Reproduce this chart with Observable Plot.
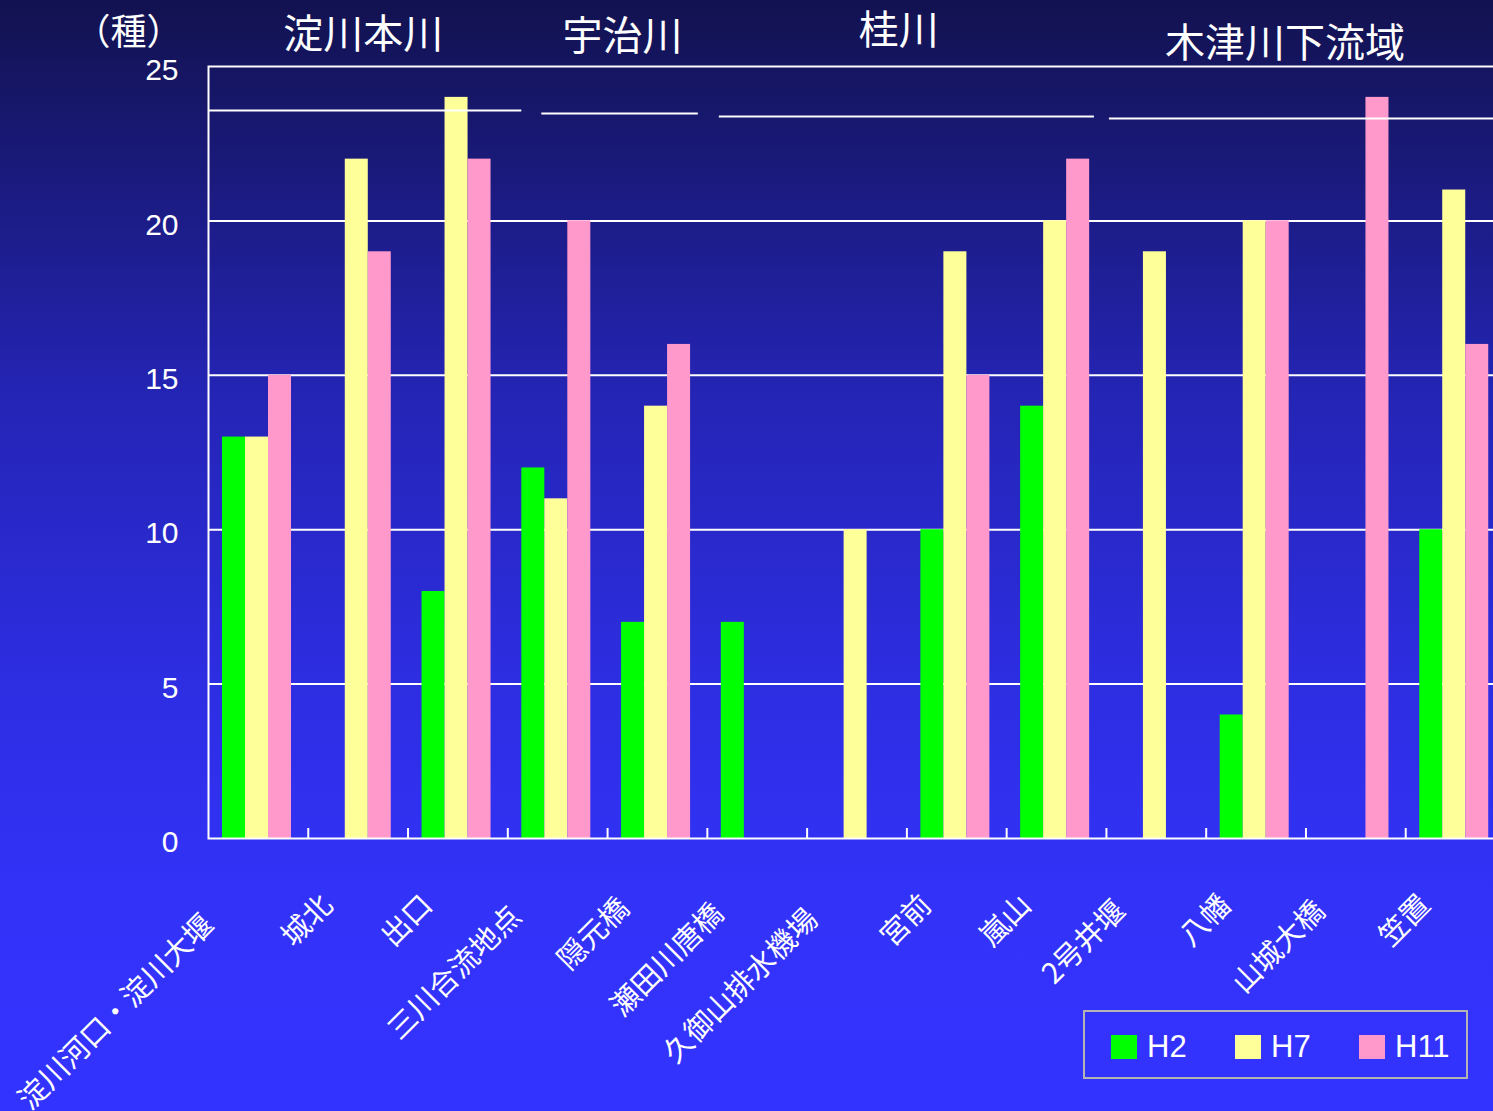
<!DOCTYPE html>
<html>
<head>
<meta charset="utf-8">
<script src="https://cdn.jsdelivr.net/npm/d3@7"></script>
<script src="https://cdn.jsdelivr.net/npm/@observablehq/plot@0.6"></script>
<style>
  html, body { margin: 0; padding: 0; width: 1493px; height: 1111px; overflow: hidden; }
  body {
    position: relative;
    background: linear-gradient(to bottom, #121250 0%, #17176c 10%, #2424b4 35%, #2d2de0 60%, #3232f8 80%, #3333ff 100%);
    font-family: "Noto Sans CJK JP", "Noto Sans", sans-serif;
  }
  #chart { position: absolute; left: 0; top: 0; }
  #legend {
    position: absolute; left: 1083px; top: 1010px; width: 381px; height: 65px;
    border: 2px solid #b4b4b4;
  }
  #legend .sw { position: absolute; top: 23px; width: 26px; height: 24px; }
  #legend .lb {
    position: absolute; top: 14px; line-height: 42px; font-size: 31px; color: white;
    font-family: "Liberation Sans", Arial, sans-serif;
  }
</style>
</head>
<body>
<div id="chart"></div>
<div id="legend"></div>
<script>
// ---- data ----
const categories = ["淀川河口・淀川大堰", "城北", "出口", "三川合流地点", "隠元橋", "瀬田川唐橋", "久御山排水機場", "宮前", "嵐山", "2号井堰", "八幡", "山城大橋", "笠置"];
const seriesNames = ["H2", "H7", "H11"];
const h2Values  = [13, null, 8, 12, 7, 7, null, 10, 14, null, 4, null, 10];
const h7Values  = [13, 22, 24, 11, 14, null, 10, 19, 20, 19, 20, null, 21];
const h11Values = [15, 19, 22, 20, 16, null, null, 15, 22, null, 20, 24, 16];
const yTicks = [0, 5, 10, 15, 20, 25];
const unitLabel = "（種）";
const groupNames  = ["淀川本川", "宇治川", "桂川", "木津川下流域"];
const groupFirst  = ["淀川河口・淀川大堰", "三川合流地点", "瀬田川唐橋", "2号井堰"];
const groupLast   = ["出口", "隠元橋", "嵐山", "笠置"];
const groupAnchor = ["城北", "隠元橋", "宮前", "八幡"];

// ---- styles ----
const seriesColors = ["#00ff00", "#ffff99", "#ff99cc"];
const W = 1493, H = 1111, mL = 208, mR = -12, mT = 66, mB = 273;
const bw = (W - mL - mR) / categories.length;
const barW = 23, groupStart = 14;
const headerStyle = [{dx: 5, dy: -31}, {dx: -35, dy: -29}, {dx: -58, dy: -35}, {dx: 29, dy: -22}];
const lineStyle = [{l: 0, r: -14, dy: 44}, {l: 34, r: 9, dy: 47}, {l: 12, r: 12, dy: 50}, {l: 3, r: -20, dy: 52}];
const cjk = "Noto Sans CJK JP";

const seriesValues = [h2Values, h7Values, h11Values];
const rows = categories.map((c, i) => ({c, v: seriesValues.map(s => s[i])}));
const yMax = d3.max(yTicks);

const barMarks = seriesNames.map((s, k) =>
  Plot.barY(rows.filter(r => r.v[k] != null), {
    x: "c", y: r => r.v[k], fill: seriesColors[k],
    insetLeft: groupStart + barW * k,
    insetRight: bw - groupStart - barW * (k + 1)
  })
);

const labelMarks = categories.map(c =>
  Plot.text([c], {
    x: d => d, text: d => d, frameAnchor: "bottom", lineAnchor: "bottom", rotate: -45, textAnchor: "end",
    dx: -18 - 2.8 * c.length, dy: 63 + 2.8 * c.length,
    fontSize: 29, fill: "white", fontFamily: cjk
  })
);

const groupLineMarks = groupNames.map((g, i) =>
  Plot.ruleY([g], {
    y: () => yMax, x1: () => groupFirst[i], x2: () => groupLast[i],
    dy: lineStyle[i].dy, insetLeft: lineStyle[i].l, insetRight: lineStyle[i].r,
    stroke: "white", strokeWidth: 2
  })
);

const groupTextMarks = groupNames.map((g, i) =>
  Plot.text([g], {
    x: () => groupAnchor[i], text: d => d, frameAnchor: "top", lineAnchor: "middle",
    dx: headerStyle[i].dx, dy: headerStyle[i].dy,
    fontSize: 40, fill: "white", fontFamily: cjk
  })
);

const chart = Plot.plot({
  width: W, height: H,
  marginLeft: mL, marginRight: mR, marginTop: mT, marginBottom: mB,
  style: {background: "transparent", color: "white", maxWidth: "none", overflow: "hidden", fontFamily: "Liberation Sans, Arial, sans-serif"},
  x: {type: "band", domain: categories, padding: 0, round: false, axis: null},
  y: {domain: [0, yMax], axis: null},
  marks: [
    Plot.ruleY(yTicks.filter(t => t > 0 && t < yMax), {stroke: "white", strokeWidth: 2}),
    ...barMarks,
    Plot.frame({stroke: "white", strokeWidth: 2}),
    Plot.ruleX(categories.slice(0, -1), {x: d => d, dx: bw / 2, insetTop: (H - mT - mB) - 10, stroke: "white", strokeWidth: 2}),
    Plot.axisY({ticks: yTicks, tickSize: 0, tickPadding: 30, fontSize: 30, dy: 4, label: null, fill: "white"}),
    Plot.text([unitLabel], {frameAnchor: "top-left", lineAnchor: "middle", text: d => d, dx: -80, dy: -33, textAnchor: "middle", fontSize: 36, fill: "white", fontFamily: cjk}),
    ...groupLineMarks,
    ...groupTextMarks,
    ...labelMarks
  ]
});
document.getElementById("chart").appendChild(chart);

// ---- legend ----
const legend = document.getElementById("legend");
const swLeft = [26, 150, 274];
seriesNames.forEach((s, k) => {
  const sw = document.createElement("div");
  sw.className = "sw"; sw.style.left = swLeft[k] + "px"; sw.style.background = seriesColors[k];
  const lb = document.createElement("div");
  lb.className = "lb"; lb.style.left = (swLeft[k] + 36) + "px"; lb.textContent = s;
  legend.appendChild(sw); legend.appendChild(lb);
});
</script>
</body>
</html>
